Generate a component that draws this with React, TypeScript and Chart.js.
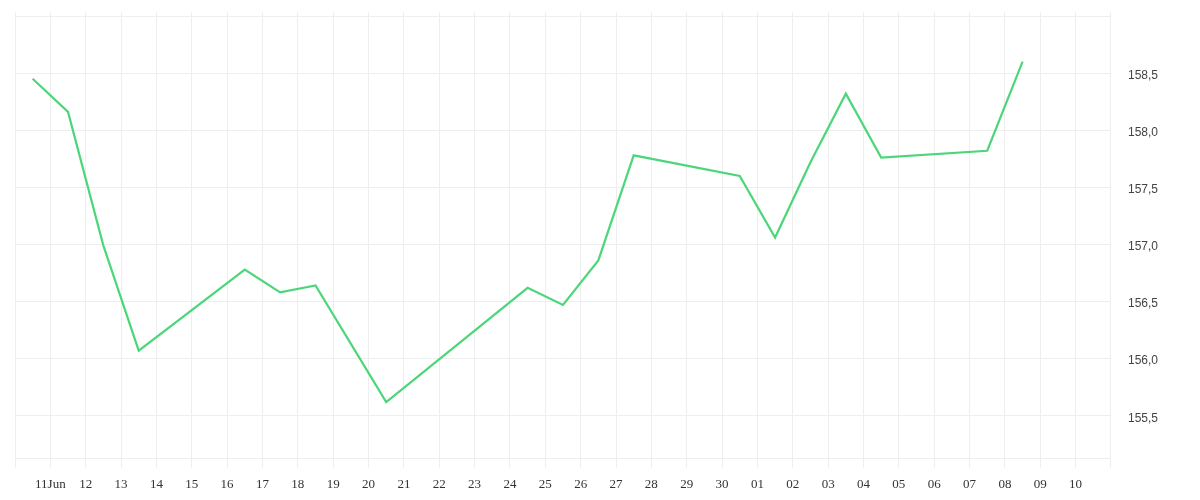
import { useEffect, useRef } from 'react';
import { Chart, registerables } from 'chart.js';

Chart.register(...registerables);

// day offsets from 10 Jun 00:00 (points sit at midday)
const dayOffsets = [0.5, 1.5, 2.5, 3.5, 6.5, 7.5, 8.5, 10.5, 14.5, 15.5, 16.5, 17.5, 20.5, 21.5, 22.5, 23.5, 24.5, 27.5, 28.5];
const prices = [158.45, 158.16, 156.99, 156.07, 156.78, 156.58, 156.64, 155.62, 156.62, 156.47, 156.86, 157.78, 157.6, 157.06, 157.72, 158.32, 157.76, 157.82, 158.6];

// one label per day boundary, 10 Jun .. 11 Jul
const dayLabels = [
  '', '11Jun', '12', '13', '14', '15', '16', '17', '18', '19', '20',
  '21', '22', '23', '24', '25', '26', '27', '28', '29', '30',
  '01', '02', '03', '04', '05', '06', '07', '08', '09', '10', '',
];

const Y_MIN = 155.13;
const Y_MAX = 159;

const GRID = '#eeeeee';
const LINE = '#4cd67a';

export default function App() {
  const canvasRef = useRef<HTMLCanvasElement>(null);

  useEffect(() => {
    if (!canvasRef.current) return;
    const chart = new Chart(canvasRef.current, {
      type: 'line',
      data: {
        datasets: [{
          data: dayOffsets.map((x, i) => ({ x, y: prices[i] })),
          borderColor: LINE,
          borderWidth: 2.2,
          pointRadius: 0,
          tension: 0,
          fill: false,
        }],
      },
      options: {
        responsive: true,
        maintainAspectRatio: false,
        animation: false,
        // bottom is negative: the tall label line box below takes the slack
        layout: { padding: { left: 7, top: 4, right: 34, bottom: -10 } },
        plugins: { legend: { display: false }, tooltip: { enabled: false } },
        scales: {
          x: {
            type: 'linear',
            min: 0,
            max: dayLabels.length - 1,
            grid: { color: GRID, tickLength: 10, tickColor: GRID },
            border: { color: GRID },
            ticks: {
              stepSize: 1,
              maxTicksLimit: 100,
              autoSkip: false,
              maxRotation: 0,
              padding: 0,
              color: '#333',
              font: { family: '"Liberation Serif", serif', size: 13, lineHeight: '34px' },
              callback: (v) => dayLabels[Number(v)] ?? '',
            },
          },
          xTop: {
            type: 'linear',
            position: 'top',
            min: 0,
            max: dayLabels.length - 1,
            grid: { color: GRID, tickLength: 4, drawOnChartArea: false, tickColor: GRID },
            border: { color: GRID },
            ticks: { display: false, stepSize: 1, maxTicksLimit: 100, autoSkip: false },
          },
          y: {
            position: 'right',
            min: Y_MIN,
            max: Y_MAX,
            // invisible tick marks give the gap between axis line and labels
            grid: { color: GRID, drawTicks: true, tickLength: 17, tickColor: 'rgba(0,0,0,0)' },
            border: { color: GRID },
            ticks: {
              stepSize: 0.5,
              includeBounds: false,
              padding: 0,
              color: '#444',
              // empty first line nudges the label a few px below its grid line
              font: { family: '"Liberation Sans", sans-serif', size: 12, lineHeight: '5px' },
              callback: (v) => (Number(v) >= Y_MAX ? '' : ['', Number(v).toFixed(1).replace('.', ',')]),
            },
          },
        },
      },
    });
    return () => chart.destroy();
  }, []);

  return (
    <div style={{ position: 'relative', width: '1184px', height: '484px' }}>
      <canvas ref={canvasRef} />
    </div>
  );
}
